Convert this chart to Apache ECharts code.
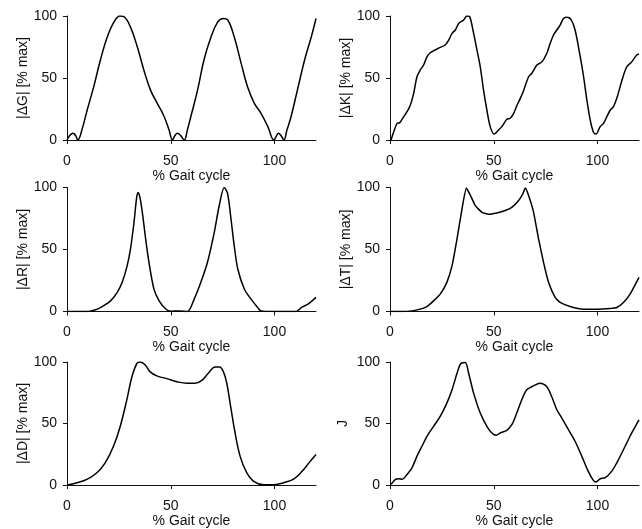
<!DOCTYPE html>
<html>
<head>
<meta charset="utf-8">
<script src="https://cdn.jsdelivr.net/npm/echarts@6/dist/echarts.min.js"></script>
<style>
  html, body { margin: 0; padding: 0; background: #fff; }
  #chart { width: 642px; height: 529px; }
</style>
</head>
<body>
<div id="chart"></div>
<script>
// gait-cycle position (%) and normalised value for each panel
var gX = [0, 1.5, 2.9, 4.2, 5.2, 7.5, 9.7, 12.9, 16.1, 19.4, 22.6, 25.5, 27.4, 30.6, 33.9, 37.1, 40.3, 43.5, 46.8, 49.2, 50.8, 52, 53.2, 54.8, 56.5, 58, 59.7, 62.9, 66, 69.4, 72.6, 75.3, 77.4, 80.6, 83.9, 87, 90.3, 93.5, 96.8, 99.7, 101, 101.9, 103.2, 104.5, 106, 108, 111, 114.5, 117.7, 120];
var gY = [0, 4, 5.5, 3.5, 0, 10, 24, 43, 64.5, 83, 95, 100, 99.5, 91, 75, 56, 40, 29.6, 19, 8, 0, 3.5, 5.4, 3.5, 0, 8, 19, 40, 64.5, 83, 95, 98, 97, 83, 62, 43, 29.6, 21.5, 10.8, 0, 3.5, 5.4, 3.5, 0, 8, 19, 40, 64.5, 83, 98];

var kX = [0.5, 1.8, 3.4, 4.7, 6.6, 8.2, 9.8, 11.4, 13, 14.6, 16.2, 17.8, 19.4, 21.8, 24.2, 26.6, 28.3, 29.9, 31.5, 33.1, 35.5, 37.1, 38.4, 40.3, 41.9, 43.5, 45.1, 46.7, 48.3, 50.2, 52.3, 53.9, 56.3, 57.9, 59.6, 61.2, 62.8, 64.4, 66.8, 68.4, 70.8, 73.2, 75.6, 77.2, 78.8, 80.4, 82, 83.6, 85.2, 87.2, 89.2, 91.7, 93.3, 94.9, 96.5, 98.1, 99.3, 101.3, 102.9, 104.5, 106.1, 107.7, 109.3, 110.9, 112.5, 114.1, 116.5, 118.9, 120];
var kY = [0, 6.7, 13.4, 14, 18.8, 22.8, 28, 37.6, 51, 56.5, 60.5, 67, 70.4, 72.6, 74.7, 76.6, 80.6, 86, 88.7, 94, 96.8, 100, 99.5, 86, 72.6, 59, 40, 24, 10.8, 4.8, 8, 10.8, 16.7, 17.5, 21.5, 28, 33.6, 40, 51, 53.8, 60.5, 63, 70, 78, 84.7, 88.7, 92.7, 98, 99, 97.3, 88.7, 67, 51, 32, 16, 6, 4.8, 10.8, 13.4, 18.8, 24, 27, 33.6, 43, 52, 59, 63, 68.5, 69.4];

var rX = [0, 5, 10, 12.9, 16.1, 21, 24.2, 26.6, 29, 30.6, 32.3, 33.5, 34.2, 35.1, 36.3, 37.9, 39.5, 41.9, 44.4, 47.6, 50, 54, 58, 61.3, 64.5, 67.7, 71, 73.4, 75.8, 77.4, 79, 80.6, 82.3, 85.5, 88.7, 91.9, 93.5, 100, 105, 110.5, 112.9, 116.1, 120];
var rY = [0, 0, 0, 1, 3.2, 8.6, 15.4, 23.5, 37, 50.5, 72, 91, 96, 92.4, 80, 58.6, 39.7, 18, 8.6, 2, 0.3, 0.5, 0, 10, 23.5, 39.7, 64, 85.7, 100, 95, 75, 53, 34.3, 18, 10, 3.2, 0.5, 0, 0, 0, 3.2, 5.9, 11.4];

var tX = [0, 5, 10.6, 14.6, 17.8, 21, 24.2, 27.4, 29.9, 32.3, 34.7, 36.8, 38.8, 41.1, 44.3, 47.5, 51.5, 55.5, 58.7, 62, 64, 65.2, 66.8, 69.2, 71.6, 74, 76.4, 79.6, 82, 86.8, 93.3, 99.7, 106.1, 109.3, 112.5, 115.7, 120];
var tY = [0, 0, 0.5, 1.9, 4, 8.6, 14, 23.5, 37, 58.5, 82.7, 99.5, 93.5, 85.4, 80, 78.4, 79.5, 81.4, 84, 89.5, 94.9, 99.5, 93.5, 80, 58.5, 39.6, 23.5, 11.3, 7.3, 4, 1.9, 1.9, 2.4, 3.2, 7.3, 14, 27.5];

var dX = [0, 4.8, 9.6, 14.4, 18.4, 22.4, 25.6, 28.8, 31.3, 33.7, 35.3, 37.7, 40.1, 43.3, 48.1, 53, 57.7, 61.8, 65, 68.2, 71.4, 73.5, 75.4, 77, 78.6, 81, 83.4, 86.6, 89.8, 94.6, 99.7, 104.5, 109.4, 113.4, 116.6, 120];
var dY = [0, 1.9, 4.6, 10, 18, 31.5, 47.4, 69, 88, 98.9, 100, 97.6, 92, 88.7, 86.5, 84, 82.7, 82.7, 85, 91, 96, 96, 92, 82.7, 66.6, 42.3, 23.5, 10, 3.2, 0.3, 0.3, 1.9, 5, 11.3, 18, 24.8];

var jX = [0.5, 2.6, 4.2, 5.8, 8.2, 10.6, 13, 15.4, 17.8, 21, 24.2, 27.4, 29.9, 32.3, 34.2, 36.3, 37.9, 40.3, 43.5, 46.7, 49.1, 51.2, 53.1, 56.3, 58.7, 61.1, 63.5, 65.9, 69.1, 72.3, 75.5, 77.9, 80.4, 82.8, 86, 89.2, 92.4, 95.5, 97.9, 99.3, 101.3, 103.7, 106.9, 109.3, 111.7, 114.1, 116.5, 120];
var jY = [0.5, 4.6, 5.1, 4.6, 8.6, 14, 23.5, 31.5, 39.6, 47.7, 55.8, 66.6, 77.4, 90.8, 98.9, 99.5, 90.8, 74.7, 58.5, 47.7, 42.3, 40.4, 42.3, 44.5, 49, 58.5, 69.3, 77.4, 80.6, 82.7, 80, 72, 61.2, 54.4, 45, 35.6, 23.5, 11.3, 4, 2.4, 5.1, 5.9, 11.3, 18, 26, 34.2, 42.3, 53];

var xTicks = [0, 50, 100];
var xTitle = "% Gait cycle";

var panels = [
  { name: "|ΔG| [% max]", x: gX, y: gY, smooth: 0.4 },
  { name: "|ΔK| [% max]", x: kX, y: kY, smooth: 0.3 },
  { name: "|ΔR| [% max]", x: rX, y: rY, smooth: 0.3 },
  { name: "|ΔT| [% max]", x: tX, y: tY, smooth: 0.15 },
  { name: "|ΔD| [% max]", x: dX, y: dY, smooth: 0.4 },
  { name: "J", x: jX, y: jY, smooth: 0.3 }
];

(function () {
  var font = "Liberation Sans, Arial, sans-serif";
  var ink = "#111";
  var lefts = [67, 390];
  var tops = [16, 187.5, 362];
  var grids = [], xAxes = [], yAxes = [], series = [];

  panels.forEach(function (p, i) {
    var col = i % 2, row = Math.floor(i / 2);
    grids.push({ left: lefts[col], top: tops[row], width: 249, height: 124 });
    xAxes.push({
      gridIndex: i, type: "value", min: 0, max: 120, interval: 50,
      axisLine: { show: true, lineStyle: { color: ink, width: 1 } },
      axisTick: { show: true, length: 4, customValues: xTicks, lineStyle: { color: ink } },
      axisLabel: { customValues: xTicks, fontSize: 14, color: ink, margin: 14, fontFamily: font },
      splitLine: { show: false },
      name: xTitle, nameLocation: "middle", nameGap: 29,
      nameTextStyle: { fontSize: 14, color: ink, fontFamily: font }
    });
    yAxes.push({
      gridIndex: i, type: "value", min: 0, max: 100, interval: 50,
      axisLine: { show: true, lineStyle: { color: ink, width: 1 } },
      axisTick: { show: true, length: 4, lineStyle: { color: ink } },
      axisLabel: { fontSize: 14, color: ink, margin: 10, fontFamily: font },
      splitLine: { show: false },
      name: p.name, nameLocation: "middle", nameRotate: 90, nameGap: p.name === "J" ? 40 : 37,
      nameTextStyle: { fontSize: 14, color: ink, fontFamily: font }
    });
    series.push({
      type: "line", xAxisIndex: i, yAxisIndex: i, symbol: "none", smooth: p.smooth,
      lineStyle: { color: "#000", width: 1.5 },
      data: p.x.map(function (v, k) { return [v, p.y[k]]; })
    });
  });

  var chart = echarts.init(document.getElementById("chart"));
  chart.setOption({
    animation: false,
    backgroundColor: "#fff",
    grid: grids, xAxis: xAxes, yAxis: yAxes, series: series
  });
})();
</script>
</body>
</html>
